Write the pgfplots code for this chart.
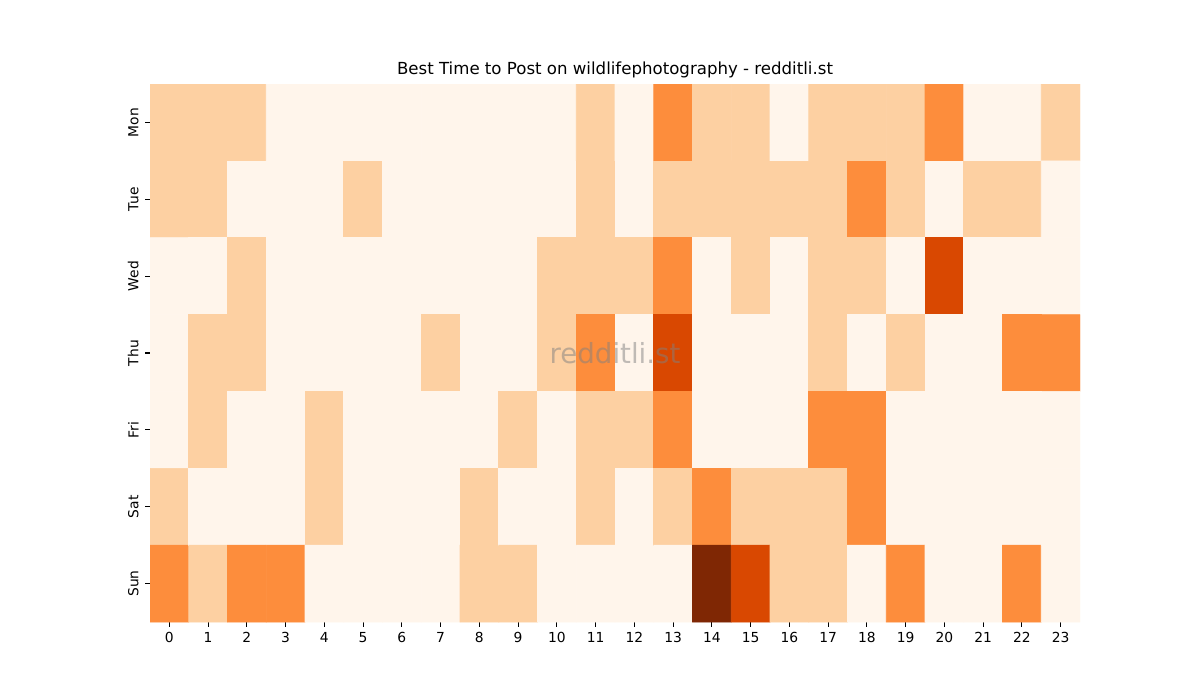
\documentclass[border=0pt]{standalone}
\usepackage{fontspec}
\setmainfont{DejaVu Sans}
\usepackage{pgfplots}
\pgfplotsset{compat=1.18}
\begin{document}
\begin{tikzpicture}
% figure frame 12in x 7in, axis box at 1.5in from left, 0.78in from bottom
\path[use as bounding box] (-1.5in,-0.78in) rectangle (10.5in,6.22in);
\begin{axis}[
    at={(0,0)}, anchor=south west,
    scale only axis,
    width=9.3in, height=5.38in,
    xmin=-0.5, xmax=23.5,
    ymin=-0.5, ymax=6.5,
    y dir=reverse,
    enlargelimits=false,
    axis line style={draw=none},
    tick align=outside,
    major tick length=3.5pt,
    tick style={black, line width=0.8pt},
    xtick pos=bottom, ytick pos=left,
    xtick={0,1,...,23},
    ytick={0,1,...,6},
    yticklabels={Mon,Tue,Wed,Thu,Fri,Sat,Sun},
    % rotated frame: positive yshift moves the label to the left
    yticklabel style={rotate=90, anchor=south, inner sep=0pt, yshift=4.5pt},
    xticklabel style={inner sep=0pt, anchor=north, yshift=-3.5pt},
    ticklabel style={font=\fontsize{10}{12}\selectfont},
    /pgf/number format/assume math mode=true,
    title={Best Time to Post on wildlifephotography - redditli.st},
    title style={at={(0.5,1)}, anchor=base, inner sep=0pt, yshift=0.6pt,
                 font=\fontsize{12}{14}\selectfont},
    colormap={oranges}{rgb255=(255,245,235) rgb255=(253,208,162)
        rgb255=(253,141,60) rgb255=(217,72,1) rgb255=(127,39,4)},
    point meta min=0, point meta max=4,
]
\addplot[matrix plot*, mesh/cols=24, point meta=explicit]
table[meta=c, row sep=\\] {
x y c\\
0 0 1\\ 1 0 1\\ 2 0 1\\ 3 0 0\\ 4 0 0\\ 5 0 0\\ 6 0 0\\ 7 0 0\\ 8 0 0\\ 9 0 0\\ 10 0 0\\ 11 0 1\\
12 0 0\\ 13 0 2\\ 14 0 1\\ 15 0 1\\ 16 0 0\\ 17 0 1\\ 18 0 1\\ 19 0 1\\ 20 0 2\\ 21 0 0\\ 22 0 0\\ 23 0 1\\
0 1 1\\ 1 1 1\\ 2 1 0\\ 3 1 0\\ 4 1 0\\ 5 1 1\\ 6 1 0\\ 7 1 0\\ 8 1 0\\ 9 1 0\\ 10 1 0\\ 11 1 1\\
12 1 0\\ 13 1 1\\ 14 1 1\\ 15 1 1\\ 16 1 1\\ 17 1 1\\ 18 1 2\\ 19 1 1\\ 20 1 0\\ 21 1 1\\ 22 1 1\\ 23 1 0\\
0 2 0\\ 1 2 0\\ 2 2 1\\ 3 2 0\\ 4 2 0\\ 5 2 0\\ 6 2 0\\ 7 2 0\\ 8 2 0\\ 9 2 0\\ 10 2 1\\ 11 2 1\\
12 2 1\\ 13 2 2\\ 14 2 0\\ 15 2 1\\ 16 2 0\\ 17 2 1\\ 18 2 1\\ 19 2 0\\ 20 2 3\\ 21 2 0\\ 22 2 0\\ 23 2 0\\
0 3 0\\ 1 3 1\\ 2 3 1\\ 3 3 0\\ 4 3 0\\ 5 3 0\\ 6 3 0\\ 7 3 1\\ 8 3 0\\ 9 3 0\\ 10 3 1\\ 11 3 2\\
12 3 0\\ 13 3 3\\ 14 3 0\\ 15 3 0\\ 16 3 0\\ 17 3 1\\ 18 3 0\\ 19 3 1\\ 20 3 0\\ 21 3 0\\ 22 3 2\\ 23 3 2\\
0 4 0\\ 1 4 1\\ 2 4 0\\ 3 4 0\\ 4 4 1\\ 5 4 0\\ 6 4 0\\ 7 4 0\\ 8 4 0\\ 9 4 1\\ 10 4 0\\ 11 4 1\\
12 4 1\\ 13 4 2\\ 14 4 0\\ 15 4 0\\ 16 4 0\\ 17 4 2\\ 18 4 2\\ 19 4 0\\ 20 4 0\\ 21 4 0\\ 22 4 0\\ 23 4 0\\
0 5 1\\ 1 5 0\\ 2 5 0\\ 3 5 0\\ 4 5 1\\ 5 5 0\\ 6 5 0\\ 7 5 0\\ 8 5 1\\ 9 5 0\\ 10 5 0\\ 11 5 1\\
12 5 0\\ 13 5 1\\ 14 5 2\\ 15 5 1\\ 16 5 1\\ 17 5 1\\ 18 5 2\\ 19 5 0\\ 20 5 0\\ 21 5 0\\ 22 5 0\\ 23 5 0\\
0 6 2\\ 1 6 1\\ 2 6 2\\ 3 6 2\\ 4 6 0\\ 5 6 0\\ 6 6 0\\ 7 6 0\\ 8 6 1\\ 9 6 1\\ 10 6 0\\ 11 6 0\\
12 6 0\\ 13 6 0\\ 14 6 4\\ 15 6 3\\ 16 6 1\\ 17 6 1\\ 18 6 0\\ 19 6 2\\ 20 6 0\\ 21 6 0\\ 22 6 2\\ 23 6 0\\
};
\node[text=gray, text opacity=0.5, font=\fontsize{20}{24}\selectfont]
    at (rel axis cs:0.5,0.5) {redditli.st};
\end{axis}
\end{tikzpicture}
\end{document}
